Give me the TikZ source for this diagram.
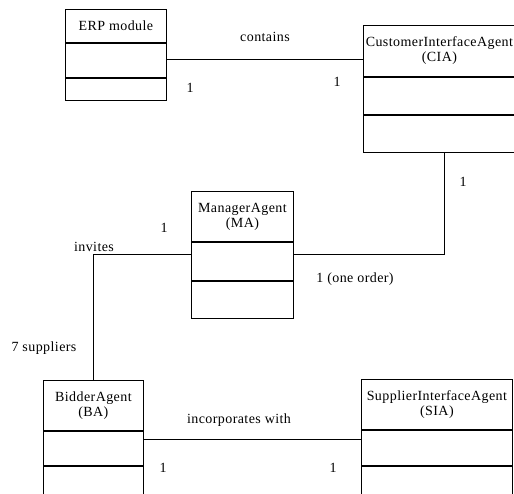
\documentclass[tikz,border=0pt]{standalone}
\usepackage{fontspec}
\setmainfont{Liberation Serif}[LetterSpace=3]
\usetikzlibrary{positioning}

\tikzset{
    part/.style={draw, line width=0.8pt, inner sep=1pt, align=center,
        minimum width=#1, font=\fontsize{14}{15}\selectfont},
    lbl/.style={inner sep=0pt, font=\fontsize{14}{15}\selectfont},
    link/.style={line width=0.7pt}
}

\begin{document}
\begin{tikzpicture}[x=1pt, y=-1pt]
    \useasboundingbox (0, 0) rectangle (514, 494);

    % ERP module
    \node[part=101pt, minimum height=33pt, anchor=north west] (erp-head) at (65, 9) {ERP module};
    \node[part=101pt, minimum height=34pt, below=0pt of erp-head] (erp-attr) {};
    \node[part=101pt, minimum height=22pt, below=0pt of erp-attr] (erp-ops) {};

    % CustomerInterfaceAgent
    \node[part=152pt, minimum height=51pt, anchor=north west] (cia-head) at (363, 25) {CustomerInterfaceAgent\\(CIA)};
    \node[part=152pt, minimum height=37pt, below=0pt of cia-head] (cia-attr) {};
    \node[part=152pt, minimum height=37pt, below=0pt of cia-attr] (cia-ops) {};

    % ManagerAgent
    \node[part=102pt, minimum height=50pt, anchor=north west] (ma-head) at (191, 191) {ManagerAgent\\(MA)};
    \node[part=102pt, minimum height=38pt, below=0pt of ma-head] (ma-attr) {};
    \node[part=102pt, minimum height=37pt, below=0pt of ma-attr] (ma-ops) {};

    % BidderAgent
    \node[part=100pt, minimum height=50pt, anchor=north west] (ba-head) at (43, 380) {BidderAgent\\(BA)};
    \node[part=100pt, minimum height=34pt, below=0pt of ba-head] (ba-attr) {};
    \node[part=100pt, minimum height=40pt, below=0pt of ba-attr] (ba-ops) {};

    % SupplierInterfaceAgent
    \node[part=151pt, minimum height=50pt, anchor=north west] (sia-head) at (361, 379) {SupplierInterfaceAgent\\(SIA)};
    \node[part=151pt, minimum height=35pt, below=0pt of sia-head] (sia-attr) {};
    \node[part=151pt, minimum height=40pt, below=0pt of sia-attr] (sia-ops) {};

    % contains
    \draw[link] ([yshift=1pt]erp-attr.east) -- ([yshift=1pt]erp-attr.east -| cia-head.west);
    \node[lbl] (contains) at (265, 37) {contains};
    \node[lbl] (erp-mult) at (190, 88) {1};
    \node[lbl] (cia-mult) at (337, 82) {1};

    % CIA - MA
    \coordinate (cia-foot) at ([xshift=5pt]cia-ops.south);
    \coordinate (ma-right) at ([yshift=7pt]ma-attr.east);
    \draw[link] (cia-foot) -- (cia-foot |- ma-right) -- (ma-right);
    \node[lbl] (cia-mult2) at (463, 182) {1};
    \node[lbl] (order) at (355, 279) {1 (one order)};

    % invites
    \coordinate (ma-left) at ([yshift=7pt]ma-attr.west);
    \coordinate (ba-top) at (93, 380);
    \draw[link] (ma-left) -- (ba-top |- ma-left) -- (ba-top);
    \node[lbl] (invites) at (94, 247) {invites};
    \node[lbl] (ma-mult) at (164, 228) {1};
    \node[lbl] (suppliers) at (44, 348) {7 suppliers};

    % incorporates with
    \draw[link] ([yshift=9pt]ba-attr.east) -- ([yshift=9pt]ba-attr.east -| sia-attr.west);
    \node[lbl] (incorporates) at (239, 420) {incorporates with};
    \node[lbl] (ba-mult) at (163, 468) {1};
    \node[lbl] (sia-mult) at (333, 468) {1};
\end{tikzpicture}
\end{document}
